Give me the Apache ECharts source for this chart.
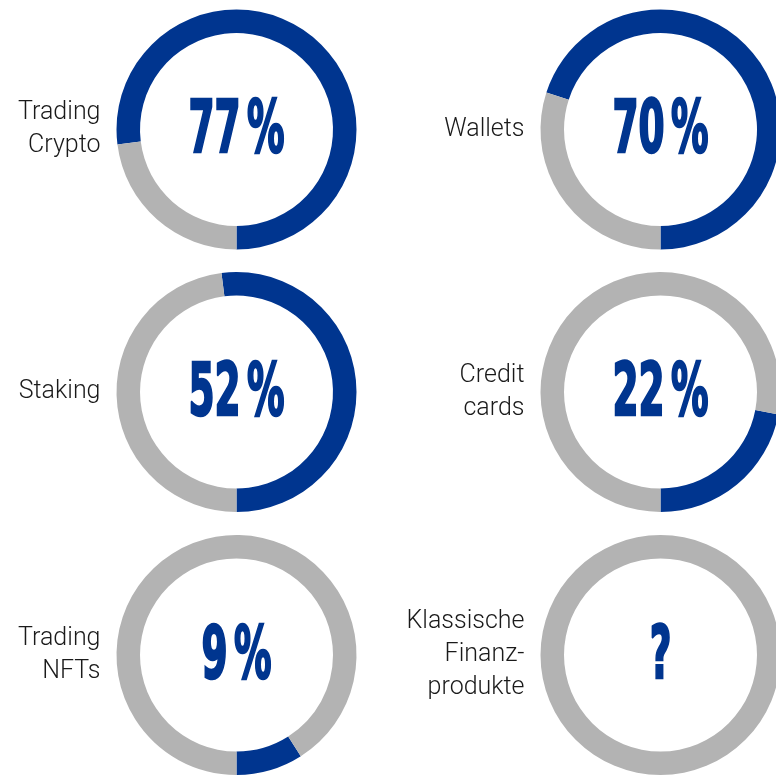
<!DOCTYPE html>
<html>
<head>
<meta charset="utf-8">
<script src="https://cdn.jsdelivr.net/npm/echarts@6/dist/echarts.min.js"></script>
<style>
html,body{margin:0;padding:0;background:#fff;}
#chart{width:776px;height:775px;}
</style>
</head>
<body>
<div id="chart"></div>
<script>
// ---- data ----
const categories = ['Trading\nCrypto', 'Wallets', 'Staking', 'Credit\ncards', 'Trading\nNFTs', 'Klassische\nFinanz-\nprodukte'];
const shares = [77, 70, 52, 22, 9, null];
const centerLabels = ['77 %', '70 %', '52 %', '22 %', '9 %', '?'];

// ---- layout ----
const colX = [236.5, 660.5];
const rowY = [129.5, 392, 655];
const rOuter = 120, rInner = 96.5;
const BLUE = '#00358f', GRAY = '#b3b3b3';
const NUM_FONT = '"Liberation Sans Narrow", "DejaVu Sans Condensed", sans-serif';

function richLabel(s) {
  const m = s.match(/^(\S+)\s(%)$/);
  if (!m) return '{n|' + s + '}';
  return '{n|' + m[1] + '}{s| }{n|' + m[2] + '}';
}

const chart = echarts.init(document.getElementById('chart'), null, {renderer: 'canvas'});
const series = [];
const graphics = [];
categories.forEach((cat, i) => {
  const cx = colX[i % 2], cy = rowY[Math.floor(i / 2)];
  const v = shares[i];
  const data = v == null
    ? [{value: 100, name: 'rest', itemStyle: {color: GRAY}}]
    : [{value: v, name: cat, itemStyle: {color: BLUE}}, {value: 100 - v, name: 'rest', itemStyle: {color: GRAY}}];
  series.push({
    type: 'pie',
    center: [cx, cy],
    radius: [rInner, rOuter],
    startAngle: 270,
    clockwise: false,
    silent: true,
    label: {show: false},
    labelLine: {show: false},
    itemStyle: {borderWidth: 0},
    emphasis: {disabled: true},
    data: data
  });
  graphics.push({
    type: 'text',
    x: cx - rOuter - 16,
    y: cy,
    style: {
      text: cat,
      font: '300 25px Roboto, "Liberation Sans", sans-serif',
      fill: '#1a1a1a',
      align: 'right',
      verticalAlign: 'middle',
      lineHeight: 33
    }
  });
  graphics.push({
    type: 'text',
    x: cx,
    y: cy + 4,
    scaleX: 0.57,
    style: {
      text: richLabel(centerLabels[i]),
      fill: BLUE,
      align: 'center',
      verticalAlign: 'middle',
      rich: {
        n: {fontFamily: NUM_FONT, fontWeight: 'bold', fontSize: 73, fill: BLUE, stroke: BLUE, lineWidth: 2.5},
        s: {fontFamily: NUM_FONT, fontSize: 40}
      }
    }
  });
});

chart.setOption({
  animation: false,
  backgroundColor: '#ffffff',
  series: series,
  graphic: {elements: graphics}
});
</script>
</body>
</html>
